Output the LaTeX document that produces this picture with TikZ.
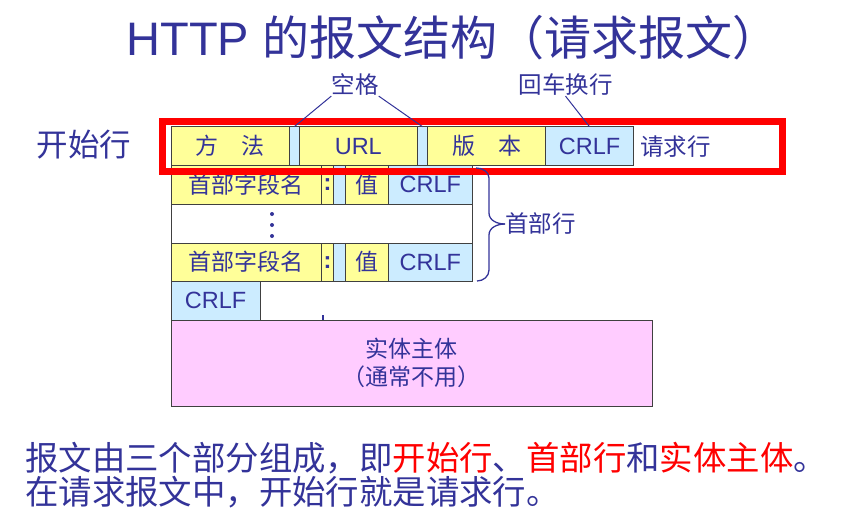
\documentclass[tikz,border=0pt]{standalone}
\usepackage{fontspec}
\setmainfont{Liberation Sans}
\newfontfamily\cjk{Noto Sans CJK SC}
\definecolor{navy}{HTML}{333399}
\definecolor{ylw}{HTML}{FFFF99}
\definecolor{lblue}{HTML}{CCECFF}
\definecolor{pinkfill}{HTML}{FFCCFF}
\definecolor{edge}{HTML}{404040}
\tikzset{
  cellbase/.style={draw=edge, line width=0.9pt, inner sep=0pt, outer sep=0pt, text=navy, font=\cjk\fontsize{23}{28}\selectfont},
  ycell/.style={cellbase, fill=ylw},
  bcell/.style={cellbase, fill=lblue},
  wcell/.style={cellbase, fill=white},
  pcell/.style={cellbase, fill=pinkfill, align=center},
  lbl/.style={text=navy, font=\cjk\fontsize{23.5}{26}\selectfont, inner sep=0pt},
  pointer/.style={draw=navy, line width=1pt},
  highlight/.style={draw=red, line width=7pt, inner sep=0pt},
}
\newcommand\mycell[7]{\node[#1, minimum width={#5pt-#3pt}, minimum height={#6pt-#4pt}] (#2) at ({(#3+#5)/2},{(#4+#6)/2}) {#7};}
\newcommand\lat{\normalfont\fontsize{23.5}{28}\selectfont}
\begin{document}
\begin{tikzpicture}[x=1pt,y=-1pt]
\useasboundingbox (0,0) rectangle (856,517);
% title
\node[text=navy, font=\fontsize{47}{50}\selectfont, inner sep=0pt] (title) at (453,38) {HTTP {\cjk 的报文结构（请求报文）}};
% request line
\mycell{ycell}{m}{171}{126.7}{289.3}{165.5}{方\hspace{1em}法}
\mycell{bcell}{g1}{289.3}{126.7}{299.3}{165.5}{}
\mycell{ycell}{url}{299.3}{126.7}{417.3}{165.5}{\lat URL}
\mycell{bcell}{g2}{417.3}{126.7}{427.7}{165.5}{}
\mycell{ycell}{ver}{427.7}{126.7}{545.7}{165.5}{版\hspace{1em}本}
\mycell{bcell}{crlf0}{545.7}{126.7}{633.3}{165.5}{\lat CRLF}
% header row 1
\mycell{ycell}{h1n}{171}{165.5}{321.7}{204.3}{首部字段名}
\mycell{ycell}{h1c}{321.7}{165.5}{333.3}{204.3}{\lat\bfseries :}
\mycell{bcell}{h1g}{333.3}{165.5}{345}{204.3}{}
\mycell{ycell}{h1v}{345}{165.5}{388.3}{204.3}{值}
\mycell{bcell}{h1r}{388.3}{165.5}{472.3}{204.3}{\lat CRLF}
% dots row
\mycell{wcell}{h2}{171}{204.3}{472.3}{243.3}{}
\fill[navy] (272,214) circle (2) (272,225) circle (2) (272,236) circle (2);
% header row 3
\mycell{ycell}{h3n}{171}{243.3}{321.7}{281}{首部字段名}
\mycell{ycell}{h3c}{321.7}{243.3}{333.3}{281}{\lat\bfseries :}
\mycell{bcell}{h3g}{333.3}{243.3}{345}{281}{}
\mycell{ycell}{h3v}{345}{243.3}{388.3}{281}{值}
\mycell{bcell}{h3r}{388.3}{243.3}{472.3}{281}{\lat CRLF}
% empty line
\mycell{bcell}{crlf1}{171}{281}{260}{320}{\lat CRLF}
\draw[navy, line width=1.5pt] (323,315) -- (323,320);
% entity body
\mycell{pcell}{body}{171}{320}{652.3}{406.7}{实体主体\\（通常不用）}
% highlight
\node[highlight, minimum width=620pt, minimum height=50pt] (hl) at (472,146) {};
% labels
\node[lbl] (kg) at (355,85) {空格};
\draw[pointer] (kg.south west) -- (g1.north);
\draw[pointer] (kg.south east) -- (g2.north);
\node[lbl] (hc) at (565.5,85) {回车换行};
\draw[pointer] (hc.south) -- (crlf0.north);
\node[lbl, anchor=west] (qq) at (640,147) {请求行};
\node[lbl, anchor=west] (sb) at (505,224) {首部行};
\draw[pointer, line width=1.3pt] (476,168) to[out=0,in=90] (489,178) -- (489,213) to[out=-90,in=180] (sb.west);
\draw[pointer, line width=1.3pt] (sb.west) to[out=180,in=90] (489,235) -- (489,270) to[out=-90,in=0] (477,281);
\node[text=navy, font=\cjk\fontsize{31.5}{34}\selectfont, inner sep=0pt] (ks) at (84,145) {开始行};
% bottom text
\node[anchor=west, text=navy, font=\cjk\fontsize{33.4}{36}\selectfont, inner sep=0pt] (s1) at (25,458) {报文由三个部分组成，即\textcolor{red}{开始行}、\textcolor{red}{首部行}和\textcolor{red}{实体主体}。};
\node[anchor=west, text=navy, font=\cjk\fontsize{33.4}{36}\selectfont, inner sep=0pt] (s2) at (25,492) {在请求报文中，开始行就是请求行。};
\end{tikzpicture}
\end{document}
